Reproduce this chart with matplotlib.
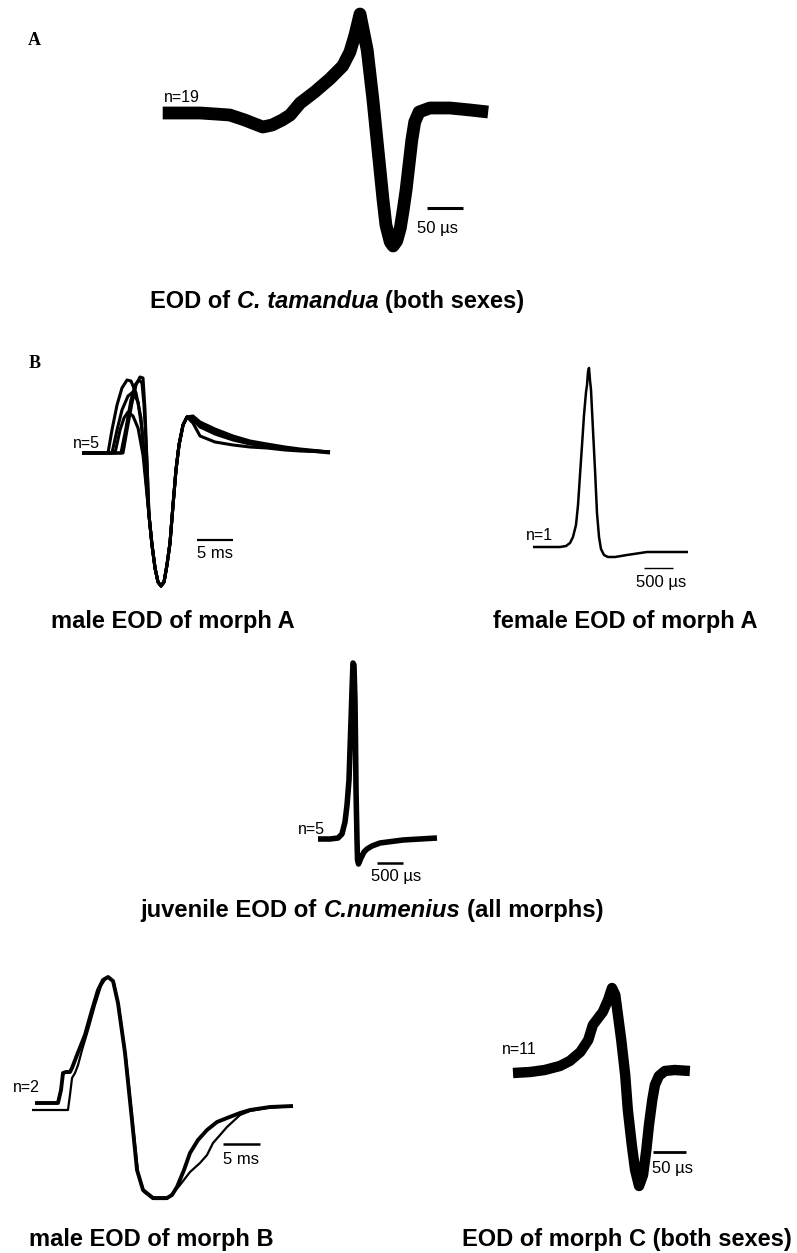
import numpy as np
import matplotlib.pyplot as plt

plt.rcParams['font.family'] = ['Liberation Sans', 'DejaVu Sans']

W, H = 797, 1253

# A: C. tamandua, n=19 (time in us, amplitude normalised to peak)
tam_t = [-274, -222, -201, -181, -160, -146, -135, -122, -108, -97, -83, -63, -42, -24, -14, -7, 0, 10, 18, 25,
         32, 36, 42, 46, 51, 56, 60, 64, 68, 72, 76, 82, 97, 125, 153, 178]
tam_v = [0, 0, -0.01, -0.02, -0.07, -0.11, -0.14, -0.12, -0.07, -0.02, 0.10, 0.21, 0.34, 0.47, 0.61, 0.78, 0.99,
         0.63, 0.13, -0.37, -0.87, -1.12, -1.29, -1.33, -1.28, -1.15, -0.97, -0.77, -0.52, -0.27, -0.09, 0.01,
         0.05, 0.05, 0.03, 0.01]

# B: male EOD of morph A, n=5 (time in ms)
maleA_pre = [
    ([-10.97, -7.36, -6.81, -6.11, -5.42, -4.72, -4.17, -3.47, -2.78, -2.22],
     [0, 0, 0.23, 0.48, 0.65, 0.73, 0.72, 0.60, 0.35, -0.12]),
    ([-10.97, -5.28, -4.72, -4.03, -3.47, -2.92, -2.50, -2.22, -1.94],
     [0, 0, 0.23, 0.50, 0.68, 0.76, 0.75, 0.43, -0.12]),
    ([-10.97, -6.39, -5.69, -5.14, -4.58, -3.89, -3.19, -2.50, -2.08],
     [0, 0, 0.23, 0.35, 0.41, 0.37, 0.25, -0.02, -0.32]),
    ([-10.97, -6.81, -6.11, -5.42, -4.58, -3.89, -3.19, -2.64, -2.08],
     [0, 0, 0.23, 0.43, 0.57, 0.61, 0.51, 0.23, -0.27]),
    ([-10.97, -5.56, -4.86, -4.17, -3.61, -3.06, -2.64, -2.36, -1.94],
     [0, 0, 0.25, 0.53, 0.68, 0.73, 0.70, 0.48, -0.09]),
]
maleA_trough_t = [-1.67, -1.25, -0.83, -0.42, 0, 0.42, 0.83, 1.25, 1.67, 2.08, 2.5, 3.06, 3.61]
maleA_trough_v = [-0.62, -0.92, -1.15, -1.29, -1.33, -1.29, -1.12, -0.90, -0.52, -0.17, 0.08, 0.28, 0.36]
maleA_tail_t = [4.44, 5.42, 7.5, 10.0, 12.36, 14.72, 17.22, 19.31, 23.47]
maleA_tails = [
    [0.30, 0.17, 0.11, 0.08, 0.06, 0.05, 0.03, 0.02, 0.01],
    [0.36, 0.30, 0.22, 0.16, 0.11, 0.08, 0.05, 0.03, 0.01],
    [0.33, 0.26, 0.19, 0.13, 0.09, 0.07, 0.04, 0.03, 0.01],
    [0.35, 0.28, 0.21, 0.15, 0.10, 0.07, 0.05, 0.03, 0.00],
    [0.37, 0.31, 0.24, 0.17, 0.12, 0.09, 0.06, 0.04, 0.01],
]

# B: female EOD of morph A, n=1 (time in us)
fem_t = [-948, -483, -379, -310, -259, -207, -172, -138, -103, -69, -34, -17, 0, 17, 34, 52, 86, 121, 155, 190,
         224, 276, 345, 466, 672, 1017, 1414, 1724]
fem_v = [0, 0, 0.01, 0.04, 0.10, 0.22, 0.42, 0.72, 1.02, 1.32, 1.55, 1.62, 1.75, 1.79, 1.67, 1.57, 1.17, 0.77,
         0.34, 0.10, -0.02, -0.08, -0.10, -0.10, -0.08, -0.05, -0.05, -0.05]

# juvenile EOD of C. numenius, n=5 (time in us)
juv_t = [-673, -442, -288, -212, -154, -115, -77, -58, -38, -19, 0, 19, 38, 48, 58, 77, 87, 106, 154, 212, 269,
         365, 519, 962, 1288, 1615]
juv_v = [0.01, 0.01, 0.02, 0.06, 0.18, 0.35, 0.60, 0.90, 1.20, 1.50, 1.77, 1.75, 1.40, 1.00, 0.50, 0.00, -0.20,
         -0.24, -0.18, -0.12, -0.09, -0.06, -0.03, 0.00, 0.01, 0.02]

# male EOD of morph B, n=2 (time in ms)
mb_t1 = [-9.86, -6.76, -6.35, -6.08, -5.68, -5.14, -4.86, -4.19, -3.11, -2.16, -1.35, -0.68, 0, 0.68, 1.35, 2.30,
         3.24, 3.92, 4.73, 6.08, 7.97, 8.65, 9.32, 10.27, 11.08, 12.16, 13.38, 14.73, 16.08, 17.84, 19.19, 21.89, 25.0]
mb_v1 = [0.03, 0.03, 0.16, 0.33, 0.34, 0.34, 0.38, 0.51, 0.71, 0.96, 1.16, 1.26, 1.29, 1.25, 1.03, 0.53, -0.14,
         -0.64, -0.84, -0.92, -0.92, -0.89, -0.81, -0.64, -0.47, -0.34, -0.24, -0.16, -0.12, -0.07, -0.04, -0.01, 0]
mb_t2 = [-10.27, -5.41, -5.14, -4.86, -4.46, -4.05, -3.51, -2.70, -1.76, -0.95, -0.27, 0.14, 0.81, 1.49, 2.43,
         3.38, 4.05, 4.86, 6.08, 7.97, 8.78, 9.73, 11.08, 12.43, 13.38, 14.19, 15.14, 16.08, 17.84, 19.19, 21.49, 25.0]
mb_v2 = [-0.04, -0.04, 0.11, 0.28, 0.33, 0.41, 0.56, 0.76, 1.01, 1.20, 1.28, 1.29, 1.23, 0.98, 0.48, -0.19,
         -0.66, -0.86, -0.93, -0.93, -0.87, -0.79, -0.66, -0.57, -0.49, -0.37, -0.29, -0.21, -0.09, -0.05, -0.02, 0]

# EOD of morph C, n=11 (time in us)
mc_t = [-150, -124, -102, -79, -64, -48, -36, -29, -14, -6, 0, 5, 9, 14, 20, 24, 30, 35, 41, 47, 52, 56, 61, 65,
        71, 80, 95, 118]
mc_v = [-0.01, 0, 0.02, 0.06, 0.11, 0.20, 0.32, 0.47, 0.60, 0.72, 0.84, 0.77, 0.57, 0.32, -0.03, -0.38, -0.73,
        -0.98, -1.14, -1.03, -0.78, -0.53, -0.28, -0.13, -0.04, 0.01, 0.02, 0.01]

titles = {
    'tam': ['EOD of', 'C. tamandua', '(both sexes)'],
    'maleA': ['male EOD of morph A'],
    'femA': ['female EOD of morph A'],
    'juv': ['juvenile EOD of', 'C.numenius', '(all morphs)'],
    'maleB': ['male EOD of morph B'],
    'morphC': ['EOD of morph C (both sexes)'],
}

fig = plt.figure(figsize=(W / 100, H / 100), dpi=100)
fig.patch.set_facecolor('white')


def panel(box, origin, scale):
    left, top, right, bottom = box
    cx, cy = origin
    sx, sy = scale
    ax = fig.add_axes([left / W, 1 - bottom / H, (right - left) / W, (bottom - top) / H])
    ax.set_xlim((left - cx) / sx, (right - cx) / sx)
    ax.set_ylim((cy - bottom) / sy, (cy - top) / sy)
    ax.axis('off')
    return ax


def trace(ax, t, v, lw):
    ax.plot(t, v, color='black', lw=lw, solid_capstyle='butt', solid_joinstyle='round', clip_on=False)


def bar(ax, t0, length, y, lw, label, ty, lab_x=None):
    ax.plot([t0, t0 + length], [y, y], color='black', lw=lw, solid_capstyle='butt', clip_on=False)
    if lab_x is None:
        lab_x = t0 + length / 2
    ax.text(lab_x, ty, label, ha='center', va='center', fontsize=12)


def ncount(ax, t, y, label):
    ax.text(t, y, label, ha='right', va='center', fontsize=11.5)


renderer = fig.canvas.get_renderer()
_a = fig.text(0, 0, 'E E', fontsize=17, fontweight='bold')
_b = fig.text(0, 0, 'EE', fontsize=17, fontweight='bold')
space_w = _a.get_window_extent(renderer).width - _b.get_window_extent(renderer).width
_a.remove()
_b.remove()


def title(parts, xc, yb, size=17):
    texts = []
    for i, s in enumerate(parts):
        style = 'italic' if (len(parts) == 3 and i == 1) else 'normal'
        texts.append(fig.text(0, 1 - yb / H, s, fontsize=size, fontweight='bold', fontstyle=style,
                              ha='left', va='baseline'))
    widths = [t.get_window_extent(renderer).width for t in texts]
    x = xc - (sum(widths) + space_w * (len(parts) - 1)) / 2
    for t, w in zip(texts, widths):
        t.set_x(x / W)
        x += w + space_w


# panel A
ax = panel((140, 0, 510, 270), (360, 113), (0.72, 100))
trace(ax, tam_t, tam_v, 9.2)
bar(ax, 93, 50, -0.95, 2.2, '50 µs', -1.15, lab_x=108)
ncount(ax, -222, 0.16, 'n=19')
title(titles['tam'], 337, 308)

# male morph A
ax = panel((60, 360, 340, 600), (161, 453), (7.2, 100))
for (pt, pv), tail in zip(maleA_pre, maleA_tails):
    t = np.concatenate([pt, maleA_trough_t, maleA_tail_t])
    v = np.concatenate([pv, maleA_trough_v, tail])
    trace(ax, t, v, 2.2)
bar(ax, 5, 5, -0.87, 1.6, '5 ms', -1.0)
ncount(ax, -8.47, 0.10, 'n=5')
title(titles['maleA'], 173, 628)

# female morph A
ax = panel((500, 350, 720, 600), (588, 547), (0.058, 100))
trace(ax, fem_t, fem_v, 1.8)
bar(ax, 966, 500, -0.21, 1.0, '500 µs', -0.35, lab_x=1259)
ncount(ax, -603, 0.12, 'n=1')
title(titles['femA'], 625, 628)

# juvenile
ax = panel((280, 640, 460, 880), (353, 840), (0.052, 100))
trace(ax, juv_t, juv_v, 4)
bar(ax, 462, 500, -0.23, 1.8, '500 µs', -0.37, lab_x=827)
ncount(ax, -538, 0.10, 'n=5')
title(titles['juv'], 372, 917, size=17.2)

# male morph B
ax = panel((10, 960, 320, 1215), (108, 1106), (7.4, 100))
trace(ax, mb_t1, mb_v1, 2.8)
trace(ax, mb_t2, mb_v2, 1.6)
bar(ax, 15.54, 5, -0.38, 1.8, '5 ms', -0.54)
ncount(ax, -9.19, 0.19, 'n=2')
title(titles['maleB'], 151, 1246)

# morph C
ax = panel((490, 960, 720, 1215), (612, 1072), (0.66, 100))
trace(ax, mc_t, mc_v, 7.5)
bar(ax, 62, 50, -0.80, 2.0, '50 µs', -0.97, lab_x=92)
ncount(ax, -114, 0.22, 'n=11')
title(titles['morphC'], 627, 1246)

# panel letters
fig.text(34 / W, 1 - 45 / H, 'A', fontsize=13, fontweight='bold', family='Liberation Serif', ha='center', va='baseline')
fig.text(35 / W, 1 - 368 / H, 'B', fontsize=13, fontweight='bold', family='Liberation Serif', ha='center', va='baseline')

fig.savefig('out.png', dpi=100, facecolor='white')
